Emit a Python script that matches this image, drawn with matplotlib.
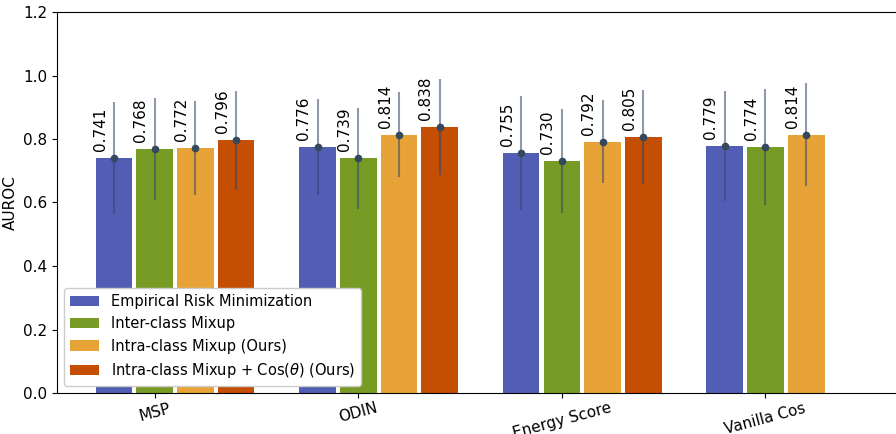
import matplotlib
matplotlib.use("Agg")
import matplotlib.pyplot as plt
import numpy as np

methods = ["MSP", "ODIN", "Energy Score", "Vanilla Cos"]
series_names = [
    "Empirical Risk Minimization",
    "Inter-class Mixup",
    "Intra-class Mixup (Ours)",
    r"Intra-class Mixup + Cos($\theta$) (Ours)",
]
erm_vals = [0.741, 0.776, 0.755, 0.779]
inter_vals = [0.768, 0.739, 0.730, 0.774]
intra_vals = [0.772, 0.814, 0.792, 0.814]
cos_vals = [0.796, 0.838, 0.805]

erm_err = [0.177, 0.151, 0.179, 0.173]
inter_err = [0.160, 0.160, 0.163, 0.183]
intra_err = [0.147, 0.134, 0.131, 0.163]
cos_err = [0.156, 0.150, 0.148]

colors = ["#525EB4", "#789B26", "#E8A338", "#C44E02"]

all_vals = [erm_vals, inter_vals, intra_vals, cos_vals]
all_errs = [erm_err, inter_err, intra_err, cos_err]

fig = plt.figure(figsize=(8.96, 4.34), dpi=100)
ax = fig.add_axes([57 / 896, 41 / 434, 1.0 - 57 / 896 + 0.002, (393 - 12) / 434])

step = 0.2
bw = 0.18
for i, (vals, errs) in enumerate(zip(all_vals, all_errs)):
    x = np.arange(len(vals)) + (i - 1) * step
    ax.bar(x, vals, width=bw, color=colors[i], label=series_names[i], zorder=2)
    ax.errorbar(x, vals, yerr=errs, fmt="none", ecolor="#34466a", alpha=0.55,
                elinewidth=1.5, capsize=0, zorder=3)
    ax.plot(x, vals, "o", color="#34495e", markersize=4.5, zorder=4)
    for xi, v in zip(x, vals):
        ax.annotate(f"{v:.3f}", (xi, v), xytext=(-10, 5), textcoords="offset points",
                    rotation=90, ha="center", va="bottom", fontsize=11)

ax.set_xticks(np.arange(len(methods)))
ax.set_xticklabels(methods, rotation=15, fontsize=11)
ax.tick_params(axis="x", pad=2)
ax.set_ylim(0, 1.2)
ax.set_yticks(np.arange(0, 1.21, 0.2))
ax.set_yticklabels([f"{t:.1f}" for t in np.arange(0, 1.21, 0.2)], fontsize=11)
ax.set_xlim(-0.48, 3.65)
ax.set_ylabel("AUROC", fontsize=11)
ax.spines["right"].set_visible(False)
leg = ax.legend(loc="lower left", fontsize=10.5, framealpha=1.0)
leg.set_zorder(10)

fig.savefig("out.png", dpi=100)
